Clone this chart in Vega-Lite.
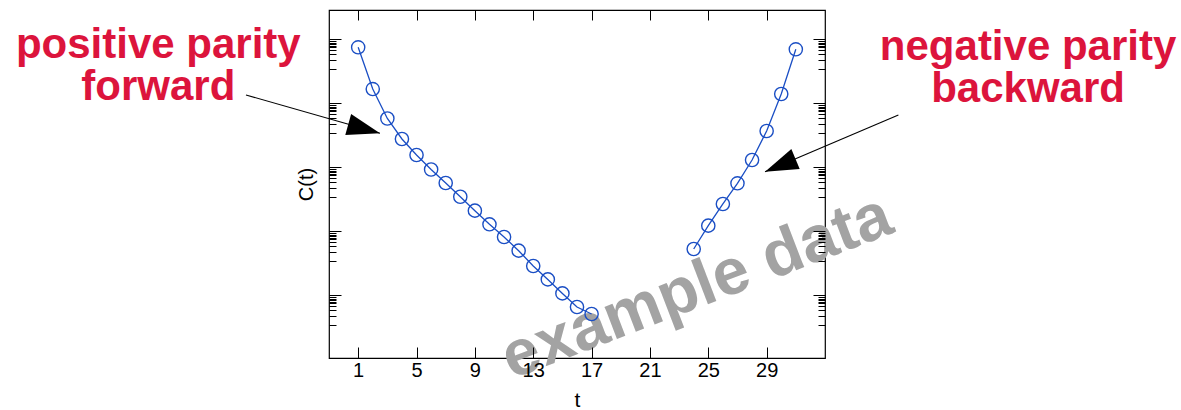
{
  "$schema": "https://vega.github.io/schema/vega-lite/v6.json",
  "width": 496,
  "height": 348,
  "autosize": {"type": "none"},
  "padding": {"left": 329, "top": 10, "right": 356, "bottom": 52},
  "background": "white",
  "config": {
    "view": {"stroke": "black", "strokeWidth": 1.2},
    "font": "Liberation Sans",
    "axis": {"grid": false, "domain": false, "tickColor": "black", "tickWidth": 1, "labelFont": "Liberation Sans", "titleFont": "Liberation Sans", "minExtent": 0, "maxExtent": 200}
  },
  "datasets": {
    "series": [
      {"t": 1, "C": 0.750, "parity": "positive"},
      {"t": 2, "C": 0.167, "parity": "positive"},
      {"t": 3, "C": 0.0579, "parity": "positive"},
      {"t": 4, "C": 0.0277, "parity": "positive"},
      {"t": 5, "C": 0.01556, "parity": "positive"},
      {"t": 6, "C": 0.00924, "parity": "positive"},
      {"t": 7, "C": 0.00569, "parity": "positive"},
      {"t": 8, "C": 0.00347, "parity": "positive"},
      {"t": 9, "C": 0.00210, "parity": "positive"},
      {"t": 10, "C": 0.001286, "parity": "positive"},
      {"t": 11, "C": 0.000814, "parity": "positive"},
      {"t": 12, "C": 0.000498, "parity": "positive"},
      {"t": 13, "C": 0.000287, "parity": "positive"},
      {"t": 14, "C": 0.000177, "parity": "positive"},
      {"t": 15, "C": 0.000107, "parity": "positive"},
      {"t": 16, "C": 0.0000656, "parity": "positive"},
      {"t": 17, "C": 0.0000510, "parity": "positive"},
      {"t": 24, "C": 0.000529, "parity": "negative"},
      {"t": 25, "C": 0.001224, "parity": "negative"},
      {"t": 26, "C": 0.002672, "parity": "negative"},
      {"t": 27, "C": 0.005623, "parity": "negative"},
      {"t": 28, "C": 0.0130, "parity": "negative"},
      {"t": 29, "C": 0.0369, "parity": "negative"},
      {"t": 30, "C": 0.1397, "parity": "negative"},
      {"t": 31, "C": 0.698, "parity": "negative"}
    ],
    "notes": [
      {"label": "positive parity\nforward", "t": -12.7, "C": 0.505},
      {"label": "negative parity\nbackward", "t": 46.92, "C": 0.475}
    ],
    "watermark": [
      {"label": "example data", "t": 24.2, "C": 0.000135}
    ],
    "arrows": [
      {"arrow": "positive", "t": -6.69, "C": 0.1349, "t2": 2.496, "C2": 0.0340},
      {"arrow": "negative", "t": 38.03, "C": 0.0656, "t2": 28.89, "C2": 0.00854}
    ]
  },
  "resolve": {"axis": {"x": "independent", "y": "independent"}},
  "layer": [
    {
      "data": {"name": "watermark"},
      "mark": {"type": "text", "fontSize": 65, "fontWeight": "bold", "color": "#a3a3a3", "angle": 339, "align": "center", "baseline": "middle", "font": "Liberation Sans"},
      "encoding": {
        "x": {"field": "t", "type": "quantitative", "scale": {"domain": [-1, 33], "nice": false, "zero": false}, "axis": null},
        "y": {"field": "C", "type": "quantitative", "scale": {"type": "log", "domain": [1.0478e-5, 2.870], "nice": false}, "axis": null},
        "text": {"field": "label"}
      }
    },
    {
      "data": {"name": "series"},
      "mark": {"type": "line", "color": "#1a4ec4", "strokeWidth": 1.3},
      "encoding": {
        "x": {"field": "t", "type": "quantitative", "scale": {"domain": [-1, 33], "nice": false, "zero": false},
          "axis": {"orient": "bottom", "zindex": 2, "values": [1, 5, 9, 13, 17, 21, 25, 29], "tickSize": -11, "labelPadding": 13, "labelFontSize": 20, "labelColor": "black", "title": "t", "titleFontSize": 21, "titleFontWeight": "normal", "titleColor": "black", "titlePadding": 9}},
        "y": {"field": "C", "type": "quantitative", "scale": {"type": "log", "domain": [1.0478e-5, 2.870], "nice": false},
          "axis": {"orient": "left", "zindex": 2, "labels": false, "values": [1, 0.9306, 0.8815, 0.8385, 0.7971, 0.7499, 0.6854, 0.5977, 0.4748, 0.3422, 0.1, 0.09306, 0.08815, 0.08385, 0.07971, 0.07499, 0.06854, 0.05977, 0.04748, 0.03422, 0.01, 0.009306, 0.008815, 0.008385, 0.007971, 0.007499, 0.006854, 0.005977, 0.004748, 0.003422, 0.001, 0.0009306, 0.0008815, 0.0008385, 0.0007971, 0.0007499, 0.0006854, 0.0005977, 0.0004748, 0.0003422, 0.0001, 0.00009306, 0.00008815, 0.00008385, 0.00007971, 0.00007499, 0.00006854, 0.00005977, 0.00004748, 0.00003422],
            "tickSize": {"condition": {"test": "abs(log(datum.value)/LN10 - round(log(datum.value)/LN10)) < 0.001", "value": -12}, "value": -7},
            "title": "C(t)", "titleFontSize": 20, "titleFontWeight": "normal", "titleColor": "black", "titlePadding": 12}},
        "detail": {"field": "parity"}
      }
    },
    {
      "data": {"name": "series"},
      "mark": {"type": "point", "shape": "circle", "filled": false, "color": "#1a4ec4", "size": 175, "strokeWidth": 1.4, "opacity": 1},
      "encoding": {
        "x": {"field": "t", "type": "quantitative", "scale": {"domain": [-1, 33], "nice": false, "zero": false},
          "axis": {"orient": "top", "zindex": 2, "values": [1, 5, 9, 13, 17, 21, 25, 29], "tickSize": -10, "labels": false, "title": null}},
        "y": {"field": "C", "type": "quantitative", "scale": {"type": "log", "domain": [1.0478e-5, 2.870], "nice": false},
          "axis": {"orient": "right", "zindex": 2, "labels": false, "title": null, "values": [1, 0.9306, 0.8815, 0.8385, 0.7971, 0.7499, 0.6854, 0.5977, 0.4748, 0.3422, 0.1, 0.09306, 0.08815, 0.08385, 0.07971, 0.07499, 0.06854, 0.05977, 0.04748, 0.03422, 0.01, 0.009306, 0.008815, 0.008385, 0.007971, 0.007499, 0.006854, 0.005977, 0.004748, 0.003422, 0.001, 0.0009306, 0.0008815, 0.0008385, 0.0007971, 0.0007499, 0.0006854, 0.0005977, 0.0004748, 0.0003422, 0.0001, 0.00009306, 0.00008815, 0.00008385, 0.00007971, 0.00007499, 0.00006854, 0.00005977, 0.00004748, 0.00003422],
            "tickSize": {"condition": {"test": "abs(log(datum.value)/LN10 - round(log(datum.value)/LN10)) < 0.001", "value": -12}, "value": -7}}}
      }
    },
    {
      "data": {"name": "notes"},
      "mark": {"type": "text", "fontSize": 42, "fontWeight": "bold", "color": "#dc143c", "align": "center", "baseline": "alphabetic", "font": "Liberation Sans", "lineBreak": "\n", "lineHeight": 42},
      "encoding": {
        "x": {"field": "t", "type": "quantitative", "scale": {"domain": [-1, 33], "nice": false, "zero": false}, "axis": null},
        "y": {"field": "C", "type": "quantitative", "scale": {"type": "log", "domain": [1.0478e-5, 2.870], "nice": false}, "axis": null},
        "text": {"field": "label"}
      }
    },
    {
      "data": {"name": "arrows"},
      "mark": {"type": "rule", "color": "black", "strokeWidth": 1.1},
      "encoding": {
        "x": {"field": "t", "type": "quantitative", "scale": {"domain": [-1, 33], "nice": false, "zero": false}, "axis": null},
        "y": {"field": "C", "type": "quantitative", "scale": {"type": "log", "domain": [1.0478e-5, 2.870], "nice": false}, "axis": null},
        "x2": {"field": "t2"},
        "y2": {"field": "C2"}
      }
    },
    {
      "data": {"name": "arrows"},
      "transform": [{"filter": "datum.arrow == 'positive'"}],
      "mark": {"type": "point", "shape": "M0,0L-1,-0.33L-1,0.33Z", "filled": true, "color": "black", "opacity": 1, "size": 4356, "angle": 15.6, "strokeWidth": 0},
      "encoding": {
        "x": {"field": "t2", "type": "quantitative", "scale": {"domain": [-1, 33], "nice": false, "zero": false}, "axis": null},
        "y": {"field": "C2", "type": "quantitative", "scale": {"type": "log", "domain": [1.0478e-5, 2.870], "nice": false}, "axis": null}
      }
    },
    {
      "data": {"name": "arrows"},
      "transform": [{"filter": "datum.arrow == 'negative'"}],
      "mark": {"type": "point", "shape": "M0,0L-1,-0.33L-1,0.33Z", "filled": true, "color": "black", "opacity": 1, "size": 4356, "angle": 157.5, "strokeWidth": 0},
      "encoding": {
        "x": {"field": "t2", "type": "quantitative", "scale": {"domain": [-1, 33], "nice": false, "zero": false}, "axis": null},
        "y": {"field": "C2", "type": "quantitative", "scale": {"type": "log", "domain": [1.0478e-5, 2.870], "nice": false}, "axis": null}
      }
    }
  ]
}
